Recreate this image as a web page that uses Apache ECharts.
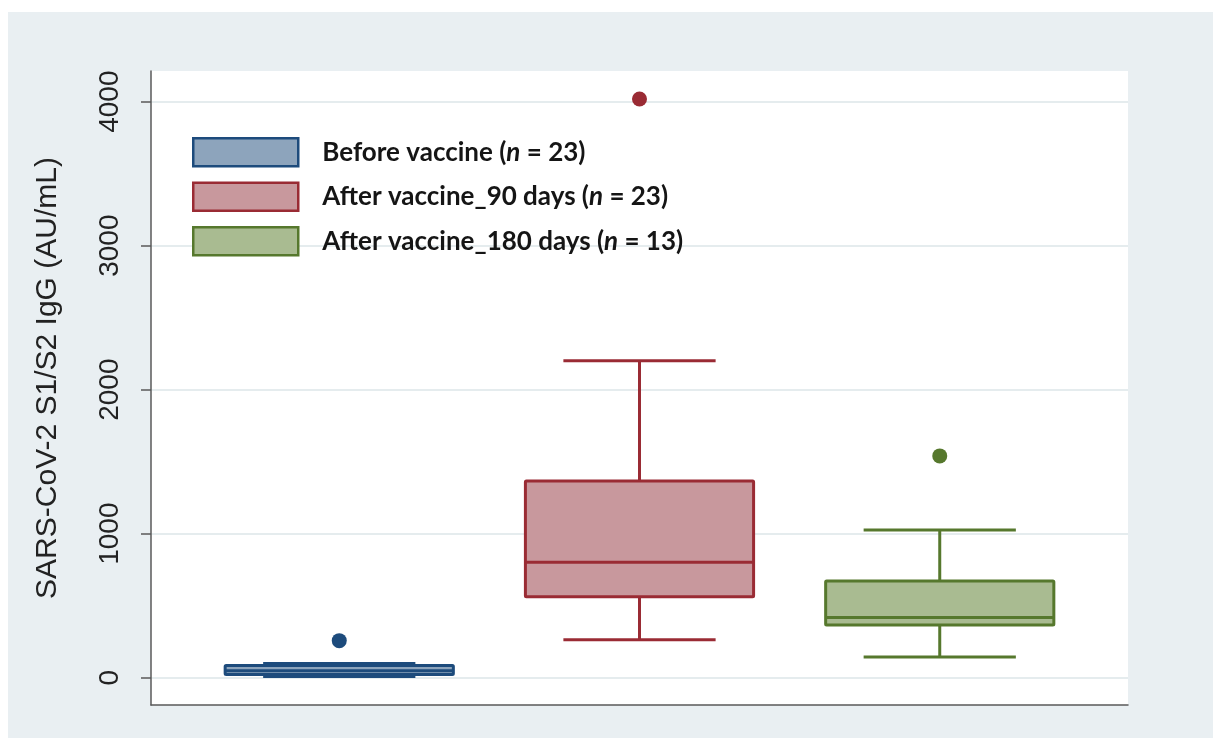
<!DOCTYPE html>
<html>
<head>
<meta charset="utf-8">
<script src="https://cdn.jsdelivr.net/npm/echarts@6/dist/echarts.min.js"></script>
<style>
html, body { margin: 0; padding: 0; background: #fff; }
#chart { position: absolute; left: 8px; top: 12px; width: 1205px; height: 726px; }
</style>
</head>
<body>
<div id="chart"></div>
<script>
// groups shown on the chart (x positions 1, 2, 3)
var groups = ['Before vaccine', 'After vaccine_90 days', 'After vaccine_180 days'];
var groupN = [23, 23, 13];
// box stats per group: [min, q1, median, q3, max]
var boxBefore = [8, 22, 48, 85, 99];
var box90 = [264, 562, 801, 1366, 2201];
var box180 = [144, 366, 417, 671, 1026];
// outliers per group
var outBefore = [257];
var out90 = [4019];
var out180 = [1540];
var yTicks = [0, 1000, 2000, 3000, 4000];

var strokes = ['#1d4b7c', '#9a2b34', '#56782d'];
var fills = ['#8da4bc', '#c8989d', '#a9bb91'];

var boxes = [boxBefore, box90, box180];
var outs = [outBefore, out90, out180];

function renderBox(params, api) {
    var x = api.value(0);
    var lo = api.coord([x, api.value(1)]);
    var q1 = api.coord([x, api.value(2)]);
    var md = api.coord([x, api.value(3)]);
    var q3 = api.coord([x, api.value(4)]);
    var hi = api.coord([x, api.value(5)]);
    var unit = api.size([1, 0])[0];
    var bw = unit * 0.76;
    var cw = unit * 0.507;
    var s = strokes[params.seriesIndex];
    var f = fills[params.seriesIndex];
    var ls = { stroke: s, lineWidth: 3 };
    return {
        type: 'group',
        children: [
            { type: 'line', shape: { x1: hi[0], y1: hi[1], x2: q3[0], y2: q3[1] }, style: ls },
            { type: 'line', shape: { x1: lo[0], y1: lo[1], x2: q1[0], y2: q1[1] }, style: ls },
            { type: 'line', shape: { x1: hi[0] - cw / 2, y1: hi[1], x2: hi[0] + cw / 2, y2: hi[1] }, style: ls },
            { type: 'line', shape: { x1: lo[0] - cw / 2, y1: lo[1], x2: lo[0] + cw / 2, y2: lo[1] }, style: ls },
            { type: 'rect', shape: { x: q3[0] - bw / 2, y: q3[1], width: bw, height: q1[1] - q3[1], r: 1 },
              style: { fill: f, stroke: s, lineWidth: 3 } },
            { type: 'line', shape: { x1: md[0] - bw / 2, y1: md[1], x2: md[0] + bw / 2, y2: md[1] }, style: ls }
        ]
    };
}

var series = [];
groups.forEach(function (g, i) {
    series.push({
        name: g,
        type: 'custom',
        renderItem: renderBox,
        itemStyle: { color: fills[i], borderColor: strokes[i], borderWidth: 2.5 },
        encode: { x: 0, y: [1, 2, 3, 4, 5] },
        data: [[i + 1].concat(boxes[i])],
        z: 3
    });
});
groups.forEach(function (g, i) {
    series.push({
        name: g + ' outliers',
        type: 'scatter',
        symbolSize: 15,
        itemStyle: { color: strokes[i], opacity: 1 },
        data: outs[i].map(function (v) { return [i + 1, v]; }),
        z: 4
    });
});

var chart = echarts.init(document.getElementById('chart'));
chart.setOption({
    backgroundColor: '#e9eff2',
    animation: false,
    grid: {
        left: 143, top: 59, right: 85, bottom: 33,
        show: true, backgroundColor: '#ffffff', borderWidth: 0
    },
    legend: {
        orient: 'vertical',
        left: 184,
        top: 125,
        padding: 0,
        itemWidth: 105,
        itemHeight: 28,
        itemGap: 14,
        icon: 'rect',
        selectedMode: false,
        data: groups.map(function (g, i) {
            return { name: g, itemStyle: { color: fills[i], borderColor: strokes[i], borderWidth: 2.5 } };
        }),
        formatter: function (name) {
            var i = groups.indexOf(name);
            return '{b|' + name + ' (}{i|n}{b| = ' + groupN[i] + ')}';
        },
        textStyle: {
            padding: [0, 0, 0, 19],
            rich: {
                b: { fontFamily: 'Lato', fontWeight: 'bold', fontSize: 26, color: '#151515' },
                i: { fontFamily: 'Lato', fontWeight: 'bold', fontStyle: 'italic', fontSize: 26, color: '#151515' }
            }
        }
    },
    xAxis: {
        type: 'value',
        min: 0.373,
        max: 3.627,
        axisLine: { show: true, onZero: false, lineStyle: { color: '#5a5a5a', width: 1.5 } },
        axisTick: { show: false },
        axisLabel: { show: false },
        splitLine: { show: false }
    },
    yAxis: {
        type: 'value',
        min: -190,
        max: 4213,
        splitNumber: 5,
        name: 'SARS-CoV-2 S1/S2 IgG (AU/mL)',
        nameLocation: 'middle',
        nameRotate: 90,
        nameGap: 88,
        nameTextStyle: { fontFamily: 'Liberation Sans', fontSize: 30, color: '#222', padding: [0, 0, 0, 20] },
        axisLine: { show: true, lineStyle: { color: '#5a5a5a', width: 1.5 } },
        axisTick: { show: true, length: 10, customValues: yTicks, lineStyle: { color: '#5a5a5a', width: 1.5 } },
        axisLabel: {
            customValues: yTicks,
            formatter: function (v) { return String(v); },
            rotate: 90,
            margin: 27,
            fontFamily: 'Liberation Sans',
            fontSize: 28,
            color: '#222'
        },
        splitLine: { show: true, lineStyle: { color: '#e5ecee', width: 2 } }
    },
    series: series
});
</script>
</body>
</html>
